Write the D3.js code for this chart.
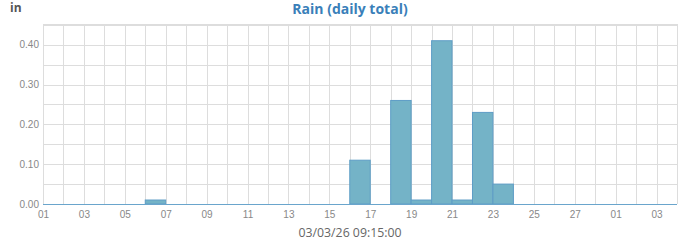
<!DOCTYPE html>
<html>
<head>
<meta charset="utf-8">
<script src="https://cdn.jsdelivr.net/npm/d3@7"></script>
<style>
  body { margin: 0; background: #fff; }
  svg { display: block; font-family: "Open Sans", sans-serif; }
</style>
</head>
<body>
<script>
// Datos: lluvia diaria (pulgadas), febrero 2026 y principio de marzo
var dias = ["2026-02-06", "2026-02-16", "2026-02-18", "2026-02-19",
            "2026-02-20", "2026-02-21", "2026-02-22", "2026-02-23"];
var lluvia = [0.01, 0.11, 0.26, 0.01, 0.41, 0.01, 0.23, 0.05];
var yTicks = [0, 0.10, 0.20, 0.30, 0.40];
var titulo = "Rain (daily total)";
var unidad = "in";
var fechaEje = "03/03/26 09:15:00";

var parse = d3.timeParse("%Y-%m-%d");
var datos = dias.map(function(d, i) { return { dia: parse(d), valor: lluvia[i] }; });

var margin = {top: 24, right: 23, bottom: 36, left: 43},
    width = 700 - margin.left - margin.right,
    height = 240 - margin.top - margin.bottom;

var svg = d3.select("body").append("svg")
    .attr("width", 700).attr("height", 240);

var g = svg.append("g")
    .attr("transform", "translate(" + margin.left + "," + margin.top + ")");

var inicio = new Date(2026, 1, 1), fin = new Date(2026, 2, 4);
var x = d3.scaleTime().domain([inicio, fin]).range([0, width]);
var y = d3.scaleLinear().domain([0, 0.452]).range([height, 0]);

// Rejilla vertical diaria
g.append("g").selectAll("line")
  .data(d3.timeDay.range(inicio, d3.timeDay.offset(fin, 1)))
  .enter().append("line")
  .attr("x1", function(d) { return Math.round(x(d)) + 0.5; })
  .attr("x2", function(d) { return Math.round(x(d)) + 0.5; })
  .attr("y1", 0).attr("y2", height)
  .attr("stroke", "#dddddd");

// Rejilla horizontal cada 0.05
g.append("g").selectAll("line")
  .data(d3.range(0, 0.46, 0.05).concat([y.domain()[1]]))
  .enter().append("line")
  .attr("x1", 0).attr("x2", width)
  .attr("y1", function(d) { return Math.round(y(d)) + 0.5; })
  .attr("y2", function(d) { return Math.round(y(d)) + 0.5; })
  .attr("stroke", "#dddddd");

// Barras
g.append("g").selectAll("rect")
  .data(datos)
  .enter().append("rect")
  .attr("x", function(d) { return x(d.dia); })
  .attr("width", function(d) { return x(d3.timeDay.offset(d.dia, 1)) - x(d.dia); })
  .attr("y", function(d) { return y(d.valor); })
  .attr("height", function(d) { return y(0) - y(d.valor); })
  .attr("fill", "#74b3c7")
  .attr("stroke", "#5e9dc6")
  .attr("stroke-width", 1);

// Línea base
g.append("line")
  .attr("x1", 0).attr("x2", width)
  .attr("y1", height + 0.5).attr("y2", height + 0.5)
  .attr("stroke", "#6aa5cc");

// Eje Y
var ejeY = g.append("g")
  .call(d3.axisLeft(y).tickValues(yTicks).tickFormat(d3.format(".2f")).tickSize(0).tickPadding(4));
ejeY.select(".domain").remove();
ejeY.selectAll("text").attr("fill", "#888").style("font-size", "10px");

// Eje X
var ejeX = g.append("g")
  .attr("transform", "translate(0," + height + ")")
  .call(d3.axisBottom(x).ticks(d3.timeDay.every(2)).tickFormat(d3.timeFormat("%d")).tickSize(0).tickPadding(7));
ejeX.select(".domain").remove();
ejeX.selectAll("text").attr("fill", "#888").style("font-size", "10px");

// Título y etiquetas
svg.append("text")
  .attr("x", 350).attr("y", 14)
  .attr("text-anchor", "middle")
  .attr("fill", "#3a7fb9")
  .style("font-size", "14px").style("font-weight", "bold")
  .text(titulo);

svg.append("text")
  .attr("x", 10).attr("y", 12)
  .attr("fill", "#555")
  .style("font-size", "12px").style("font-weight", "bold")
  .text(unidad);

svg.append("text")
  .attr("x", 350).attr("y", 236.5)
  .attr("text-anchor", "middle")
  .attr("fill", "#666")
  .style("font-size", "12.3px")
  .text(fechaEje);
</script>
</body>
</html>
